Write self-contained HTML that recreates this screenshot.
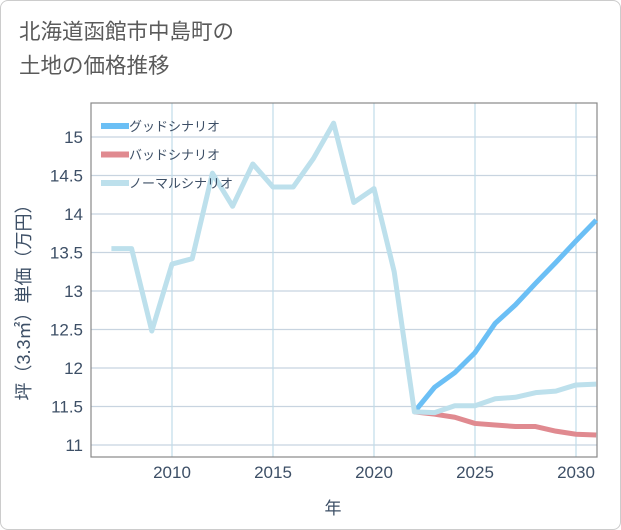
<!DOCTYPE html>
<html><head><meta charset="utf-8">
<style>
body{margin:0;background:#fff;}
#card{position:absolute;left:0;top:0;width:619px;height:528px;border:1px solid #ccc;border-radius:8px;background:#fff;font-family:"Liberation Sans","Noto Sans CJK JP",sans-serif;}
#title{position:absolute;left:18px;top:14px;font-size:21.5px;line-height:34px;color:#5a5a5a;}
</style></head><body>
<div id="card">
<div id="title">北海道函館市中島町の<br>土地の価格推移</div>
<svg id="chart" width="621" height="530" style="position:absolute;left:-1px;top:-1px"></svg>
</div>
<script>
const years=[2007,2008,2009,2010,2011,2012,2013,2014,2015,2016,2017,2018,2019,2020,2021,2022,2023,2024,2025,2026,2027,2028,2029,2030,2031];
const normalVals=[13.55,13.55,12.48,13.35,13.42,14.53,14.1,14.65,14.35,14.35,14.72,15.18,14.15,14.33,13.25,11.43,11.42,11.51,11.51,11.6,11.62,11.68,11.7,11.78,11.79];
const goodYears=[2022,2023,2024,2025,2026,2027,2028,2029,2030,2031];
const goodVals=[11.43,11.75,11.94,12.2,12.58,12.82,13.1,13.37,13.65,13.92];
const badVals=[11.43,11.4,11.36,11.28,11.26,11.24,11.24,11.18,11.14,11.13];
const yTicks=[11,11.5,12,12.5,13,13.5,14,14.5,15];
const yTickLabels=["11","11.5","12","12.5","13","13.5","14","14.5","15"];
const xTicks=[2010,2015,2020,2025,2030];
const xTickLabels=["2010","2015","2020","2025","2030"];
const L=91,R=597,T=103,B=457;
const xs=y=>172+(y-2010)*20.2;
const ys=v=>445-(v-11)*77;
const svg=document.getElementById('chart');
const NS='http://www.w3.org/2000/svg';
function mk(tag,attrs,parent){const e=document.createElementNS(NS,tag);for(const k in attrs)e.setAttribute(k,attrs[k]);(parent||svg).appendChild(e);return e;}
yTicks.forEach((t,i)=>{
 const l=mk('line',{x1:L,x2:R,y1:ys(t),y2:ys(t),stroke:'#c8d4e0','stroke-width':1.2});
 
 
 const tx=mk('text',{x:L-8,y:ys(t)+6,'text-anchor':'end','font-size':17,fill:'#3d4f66'});
 tx.textContent=yTickLabels[i];
 
 
});
xTicks.forEach((t,i)=>{
 const l=mk('line',{x1:xs(t),x2:xs(t),y1:T,y2:B,stroke:'#c0dce8','stroke-width':1.2});
 
 
 const tx=mk('text',{x:xs(t),y:478,'text-anchor':'middle','font-size':17,fill:'#3d4f66'});
 tx.textContent=xTickLabels[i];
 
 
});
const frame=mk('rect',{x:L,y:T,width:R-L,height:B-T,fill:'none',stroke:'#888','stroke-width':1.2});


function series(xv,yv,color,name){
 const p=mk('polyline',{points:xv.map((x,i)=>xs(x)+','+ys(yv[i])).join(' '),fill:'none',stroke:color,'stroke-width':5,'stroke-linejoin':'round'});
 
 
}
series(goodYears,badVals,'#e08a90','bad-scenario-line');
series(goodYears,goodVals,'#6bbff5','good-scenario-line');
series(years,normalVals,'#bde0ec','normal-scenario-line');
const legend=[['グッドシナリオ','#6bbff5'],['バッドシナリオ','#e08a90'],['ノーマルシナリオ','#bde0ec']];
legend.forEach((d,i)=>{
 const y=126+i*28.5;
 const l=mk('line',{x1:101,x2:129,y1:y,y2:y,stroke:d[1],'stroke-width':6});
 
 
 const tx=mk('text',{x:129,y:y+5,'font-size':13,fill:'#3d4f66'});
 tx.textContent=d[0];
 
 
});
const yt=mk('text',{x:0,y:0,'text-anchor':'middle','font-size':18,fill:'#3d4f66',transform:'translate(30,298) rotate(-90)'});
yt.textContent='坪（3.3㎡）単価（万円）';


const xt=mk('text',{x:333,y:514,'text-anchor':'middle','font-size':17,fill:'#3d4f66'});
xt.textContent='年';


</script>
</body></html>
